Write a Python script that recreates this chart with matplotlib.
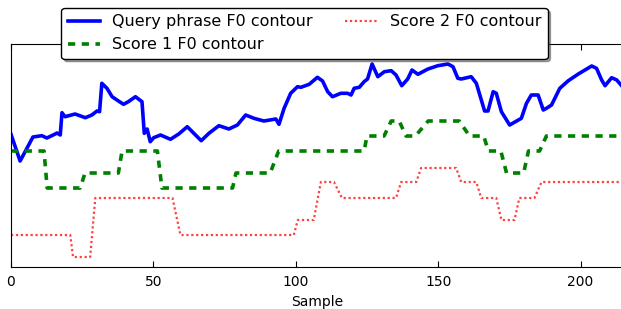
import matplotlib
matplotlib.use("Agg")
import matplotlib.pyplot as plt

# Query phrase contour, traced vertices (sample, pitch)
query_x = [0, 3.2, 4.9, 7.7, 10.8, 12.6, 14.8, 16.2, 17.3, 17.9, 19.0, 22.5, 26.1, 28.4,
           30.2, 31.1, 31.9, 33.7, 35.5, 37.2, 39.5, 41.2, 43.7, 46.0, 46.8, 47.8, 48.9,
           50.1, 52.5, 56.0, 58.9, 61.9, 64.2, 66.8, 69.5, 73.0, 76.5, 79.5, 82.4, 85.3,
           88.8, 93.0, 94.1, 95.9, 98.2, 100.6, 101.8, 104.7, 107.6, 109.4, 111.2, 112.9,
           115.8, 118.2, 119.4, 120.5, 122.3, 124.0, 125.2, 126.8, 128.8, 131.1, 133.5,
           135.2, 137.2, 139.3, 140.8, 142.9, 146.4, 149.9, 153.4, 155.2, 156.9, 158.1,
           161.6, 163.4, 166.3, 167.5, 169.3, 170.4, 172.2, 175.1, 179.2, 181.0, 182.7,
           185.1, 186.9, 188.0, 189.8, 192.7, 195.7, 199.2, 203.9, 205.6, 207.4, 208.6,
           210.9, 212.7, 214.4]
query_y = [132.7, 106, 115, 130, 131.3, 129, 132, 134, 132, 154.3, 150.3, 153, 149.3, 152,
           156, 155.3, 183.7, 178.7, 170.3, 167, 162.7, 165.3, 170.3, 165.3, 133.7, 138, 125.3,
           129.3, 132, 127.7, 133, 140.3, 133.7, 126.3, 133.7, 141.3, 138, 142, 152, 148.7,
           146, 148, 142.7, 158.7, 173.7, 180.3, 179.7, 182.7, 189.7, 186, 175.3, 170.3,
           173.7, 173.7, 172, 178.7, 179.7, 185.3, 188, 203, 190.3, 195.3, 196.3,
           192, 181.3, 188, 197, 192.7, 198, 201.3, 203, 200.3, 188.7, 188,
           190.3, 183.7, 156, 156, 175.3, 173.7, 155.3, 142, 148.7, 163.7, 172,
           172, 157, 158.7, 162, 178.7, 186.3, 193, 201, 198.7, 187, 181.3,
           189.3, 187, 181.3]

# Score 1 contour, step vertices
score1_x = [0, 11.6, 12.7, 24.3, 26, 37.7, 39, 51.4, 53, 77.8, 79, 91, 94, 124, 125, 131,
            133.5, 136.3, 138.7, 142, 146.5, 157.4, 161, 166, 167.6, 172, 174, 180,
            181.7, 185.6, 188, 215]
score1_y = [116, 116, 79, 79, 94, 94, 116, 116, 79, 79, 94, 94, 116, 116, 131, 131,
            146, 146, 131, 131, 146, 146, 131, 131, 116, 116, 94, 94,
            116, 116, 131, 131]

# Score 2 contour, step vertices
score2_x = [0, 20.8, 21.8, 27.8, 29.6, 56.7, 59.5, 99.3, 100.7, 106.3, 108.8, 113.4,
            116.2, 135.2, 137, 142.3, 144, 156.3, 158.1, 163.4, 165.1, 170.4, 172.2,
            176.8, 178.5, 183.8, 186.3, 214]
score2_y = [32, 32, 10, 10, 69, 69, 32, 32, 47, 47, 85, 85,
            69, 69, 85, 85, 99, 99, 85, 85, 69, 69, 47,
            47, 69, 69, 85, 85]

fig = plt.figure(figsize=(6.21, 3.09), dpi=100)
ax = fig.add_axes([0.0177, 0.1359, 0.986, 0.7217])

ax.plot(query_x, query_y, color="blue", lw=2.6, label="Query phrase F0 contour")
ax.plot(score1_x, score1_y, color="green", lw=2.6, linestyle=(0, (2.0, 1.8)),
        label="Score 1 F0 contour")
ax.plot(score2_x, score2_y, color="red", alpha=0.75, lw=1.6, linestyle=(0, (1, 1.2)),
        label="Score 2 F0 contour")

ax.set_xlim(0, 215)
ax.set_ylim(0, 223)
ax.set_xticks([0, 50, 100, 150, 200])
ax.set_yticks([])
ax.tick_params(axis="x", direction="in", top=True, labelsize=10, length=4, pad=6)
ax.set_xlabel("Sample", fontsize=10)

ax.legend(loc="upper center", bbox_to_anchor=(304.5 / 621, 0.974),
          bbox_transform=fig.transFigure, borderaxespad=0, ncol=2, fontsize=11.5,
          shadow=True, fancybox=True, framealpha=1, edgecolor="black")

fig.savefig("out.png", dpi=100)
